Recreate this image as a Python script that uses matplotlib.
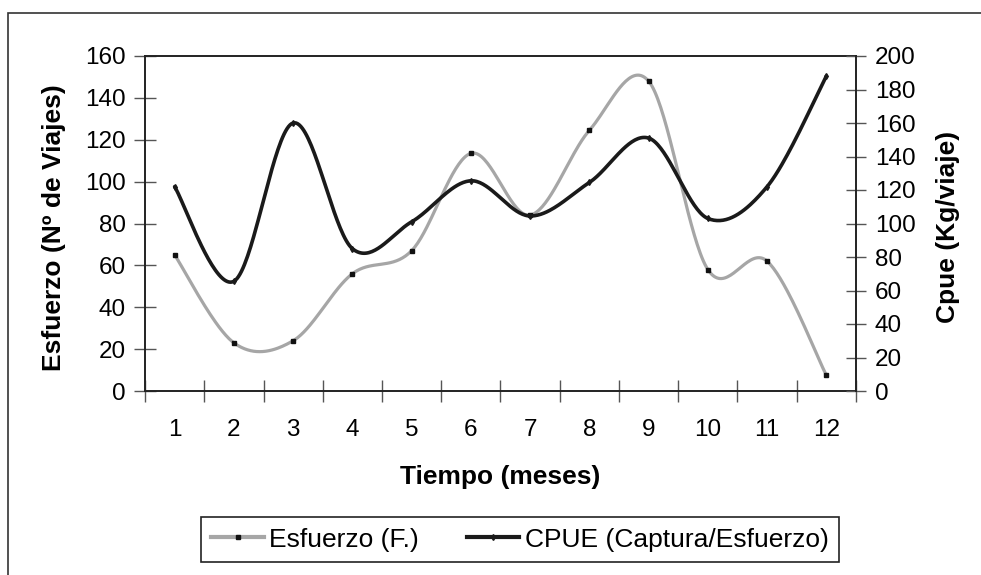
"""Esfuerzo y CPUE por mes, dos ejes, líneas suavizadas estilo Excel."""

import numpy as np
import matplotlib.pyplot as plt
from matplotlib.patches import Rectangle
from matplotlib.lines import Line2D

plt.rcParams["font.family"] = ["Liberation Sans", "DejaVu Sans"]

MESES = [1, 2, 3, 4, 5, 6, 7, 8, 9, 10, 11, 12]
ESFUERZO = [65, 23, 24, 56, 67, 113.5, 84, 124.5, 148, 58, 62, 7.5]
CPUE = [122, 65.5, 160, 85, 101, 125.5, 104.5, 124.5, 151, 103, 122, 188]

GRIS = "#A6A6A6"
NEGRO = "#1A1A1A"


def suavizar(x, y, n=40):
    """Curva Catmull-Rom (como el suavizado de Excel) entre los puntos."""
    x = np.asarray(x, float)
    y = np.asarray(y, float)
    px = np.concatenate([[x[0]], x, [x[-1]]])
    py = np.concatenate([[y[0]], y, [y[-1]]])
    xs, ys = [], []
    t = np.linspace(0, 1, n)
    for i in range(1, len(px) - 2):
        b0 = np.array([px[i], py[i]])
        b3 = np.array([px[i + 1], py[i + 1]])
        b1 = b0 + (np.array([px[i + 1], py[i + 1]]) - np.array([px[i - 1], py[i - 1]])) / 6
        b2 = b3 - (np.array([px[i + 2], py[i + 2]]) - np.array([px[i], py[i]])) / 6
        pts = ((1 - t) ** 3)[:, None] * b0 + (3 * (1 - t) ** 2 * t)[:, None] * b1 \
            + (3 * (1 - t) * t ** 2)[:, None] * b2 + (t ** 3)[:, None] * b3
        xs.extend(pts[:, 0])
        ys.extend(pts[:, 1])
    return xs, ys


fig = plt.figure(figsize=(9.81, 5.75), dpi=100)
ax1 = fig.add_axes([145 / 981, 1 - 391 / 575, (856 - 145) / 981, (391 - 56) / 575])
ax2 = ax1.twinx()

sx, sy = suavizar(MESES, ESFUERZO)
ax1.plot(sx, sy, color=GRIS, linewidth=2.3, solid_capstyle="round", zorder=2)
ax1.plot(MESES, ESFUERZO, linestyle="none", marker="s", markersize=3.5,
         color="#111", zorder=3)

cx, cy = suavizar(MESES, CPUE)
ax2.plot(cx, cy, color=NEGRO, linewidth=2.6, solid_capstyle="round", zorder=2)
ax2.plot(MESES, CPUE, linestyle="none", marker="d", markersize=3,
         color=NEGRO, zorder=3)

ax1.set_xlim(0.5, 12.5)
ax1.set_ylim(0, 160)
ax2.set_ylim(0, 200)
ax1.set_yticks(range(0, 161, 20))
ax2.set_yticks(range(0, 201, 20))

# ticks en los límites de categoría, etiquetas en el centro
ax1.set_xticks(np.arange(0.5, 13, 1))
ax1.set_xticklabels([])
ax1.set_xticks(MESES, minor=True)
ax1.set_xticklabels([str(m) for m in MESES], minor=True)
ax1.tick_params(axis="x", which="major", direction="inout", length=16,
                width=1, color="#555")
ax1.tick_params(axis="x", which="minor", length=0, pad=20, labelsize=17.5)
ax1.tick_params(axis="y", direction="inout", length=16, width=1, color="#555",
                labelsize=17.5, pad=6)
ax2.tick_params(axis="y", direction="inout", length=15, width=1, color="#555",
                labelsize=17.5, pad=6)

for ax in (ax1, ax2):
    for s in ax.spines.values():
        s.set_visible(False)
ax1.spines["left"].set_visible(True)
ax1.spines["bottom"].set_visible(True)
ax2.spines["right"].set_visible(True)
ax1.spines["top"].set_visible(True)
for s in (ax1.spines["left"], ax1.spines["bottom"], ax2.spines["right"],
          ax1.spines["top"]):
    s.set_linewidth(1.4)
    s.set_color("#222")

fig.text(54 / 981, 1 - 228 / 575, "Esfuerzo (Nº de Viajes)", rotation=90,
         ha="center", va="center", fontsize=19, fontweight="bold")
fig.text(948 / 981, 1 - 227 / 575, "Cpue (Kg/viaje)", rotation=90,
         ha="center", va="center", fontsize=19, fontweight="bold")
fig.text(500 / 981, 1 - 477 / 575, "Tiempo (meses)", ha="center", va="center",
         fontsize=19, fontweight="bold")

handles = [
    Line2D([], [], color=GRIS, linewidth=3, marker="s", markersize=3.5,
           markerfacecolor="#111", markeredgecolor="#111"),
    Line2D([], [], color=NEGRO, linewidth=3, marker="d", markersize=3),
]
fig.legend(handles, ["Esfuerzo (F.)", "CPUE (Captura/Esfuerzo)"],
           loc="center", bbox_to_anchor=(520 / 981, 1 - 539.5 / 575), ncol=2,
           fontsize=19, frameon=True, fancybox=False, edgecolor="#222",
           framealpha=1, handlelength=2, handletextpad=0.2, columnspacing=1.8,
           borderpad=0.4)
fig.legends[0].get_frame().set_linewidth(1.2)

# marco exterior del gráfico (recortado a la derecha y abajo)
fig.add_artist(Rectangle((8 / 981, -0.2), 1.2, 1.2 - 13 / 575,
                         transform=fig.transFigure, fill=False,
                         linewidth=1.2, edgecolor="#333"))

fig.savefig("out.png", dpi=100)
